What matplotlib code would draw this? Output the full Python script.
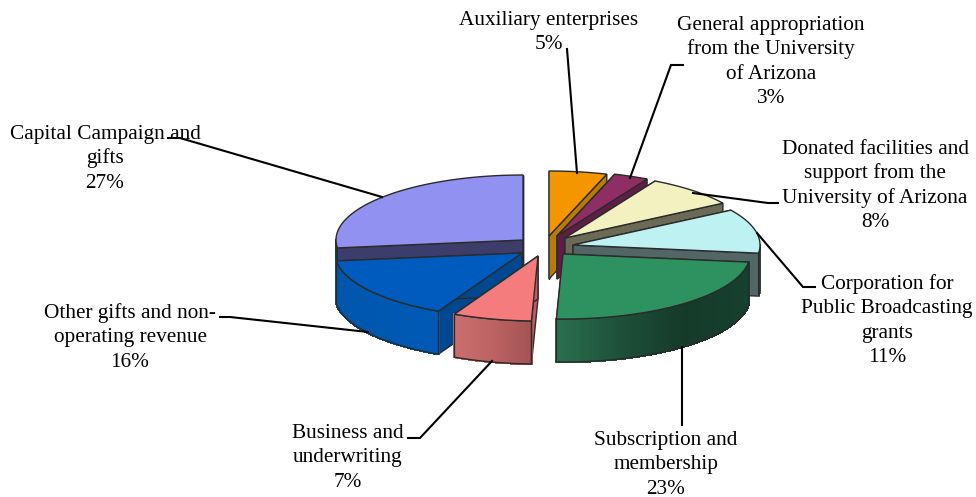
import numpy as np
import matplotlib
matplotlib.use("Agg")
import matplotlib.pyplot as plt
from matplotlib.collections import PolyCollection
from matplotlib.colors import LinearSegmentedColormap
from matplotlib.patches import Polygon

# -------------------------
# Data (clockwise from 12 o'clock)
# -------------------------
names = [
    ["Auxiliary enterprises"],
    ["General appropriation", "from the University", "of Arizona"],
    ["Donated facilities and", "support from the", "University of Arizona"],
    ["Corporation for", "Public Broadcasting", "grants"],
    ["Subscription and", "membership"],
    ["Business and", "underwriting"],
    ["Other gifts and non-", "operating revenue"],
    ["Capital Campaign and", "gifts"],
]
percent_labels = [5, 3, 8, 11, 23, 7, 16, 27]
slice_shares = [5.0, 3.0, 8.0, 11.0, 23.56, 6.81, 15.69, 26.94]

# -------------------------
# Layout and styles
# -------------------------
CX, CY = 543, 245
RX, RY = 187, 65
DEPTH = 43

offsets = [(6, -9), (14, -9), (22, -7), (30, 0), (20, 9), (-5, 11), (-21, 8), (-20, -5)]
top_colors = ["#F49600", "#8E2E64", "#F2F2C0", "#BEF2F2", "#2E9260", "#F47C7C", "#005BBF", "#9191F2"]
wall_colors = ["#BA7A08", "#5E1E45", "#6A6A55", "#526666", "#1A4A35", "#B85E5E", "#004890", "#3D3D6B"]
curve_stops = [
    ["#BA7A08"] * 2,
    ["#5E1E45"] * 2,
    ["#6A6A55"] * 2,
    ["#566E6E"] * 2,
    ["#2A7050", "#1D5039", "#153A2A", "#17402F"],
    ["#CC6E6E", "#BC6262", "#A35353"],
    ["#0056AC", "#005AB6"],
    ["#0056AC"] * 2,
]
draw_order = [7, 0, 1, 2, 3, 6, 5, 4]

label_pos = [
    (549, 25), (771, 30), (875, 154), (887, 289),
    (666, 445), (348, 438), (130, 318), (105, 139),
]
LINE_H = 24.4

leaders = [
    [(567, 49), (577, 173)],
    [(683, 65), (671, 65), (630, 178)],
    [(778, 203), (768, 203), (693, 193)],
    [(815, 287), (803, 287), (757, 233)],
    [(682, 425), (682, 347)],
    [(408, 438), (420, 438), (492, 361)],
    [(220, 317), (230, 317), (368, 332)],
    [(168, 138), (180, 138), (382, 197)],
]

plt.rcParams["font.family"] = ["Liberation Serif", "DejaVu Serif"]

fig = plt.figure(figsize=(9.76, 4.97), dpi=100)
ax = fig.add_axes([0, 0, 1, 1])
ax.set_xlim(0, 976)
ax.set_ylim(497, 0)
ax.axis("off")

EDGE = "#2b2b2b"


def rim(apex, angles):
    a = np.radians(angles)
    return np.column_stack([apex[0] + RX * np.sin(a), apex[1] - RY * np.cos(a)])


edges = np.concatenate([[0], np.cumsum(slice_shares)]) / np.sum(slice_shares) * 360

for i in draw_order:
    start, end = edges[i], edges[i + 1]
    apex = np.array([CX + offsets[i][0], CY + offsets[i][1]], dtype=float)
    down = np.array([0, DEPTH])

    # flat cut walls
    for ang in (start, end):
        p = rim(apex, [ang])[0]
        wall = [apex, p, p + down, apex + down]
        ax.add_patch(Polygon(wall, closed=True, fc=wall_colors[i], ec=EDGE, lw=1, zorder=2))

    # curved outer wall, shaded in strips
    lo, hi = max(start, 90), min(end, 270)
    if hi > lo:
        arc = rim(apex, np.linspace(lo, hi, 80))
        cmap = LinearSegmentedColormap.from_list("wall", curve_stops[i])
        quads = [[arc[k], arc[k + 1], arc[k + 1] + down, arc[k] + down] for k in range(len(arc) - 1)]
        xs = arc[:-1, 0]
        t = (xs - arc[:, 0].min()) / max(np.ptp(arc[:, 0]), 1)
        cols = cmap(t)
        ax.add_collection(PolyCollection(quads, facecolors=cols, edgecolors=cols, linewidths=1.0,
                                         antialiaseds=False, zorder=2))
        outline = np.vstack([arc, arc[::-1] + down])
        ax.add_patch(Polygon(outline, closed=True, fill=False, ec=EDGE, lw=1, zorder=2))

    # top face
    top = np.vstack([apex, rim(apex, np.linspace(start, end, 80))])
    ax.add_patch(Polygon(top, closed=True, fc=top_colors[i], ec=EDGE, lw=1, zorder=2))

# -------------------------
# Leader lines and labels
# -------------------------
for pts in leaders:
    xs, ys = zip(*pts)
    ax.plot(xs, ys, color="black", lw=1.5, solid_joinstyle="miter", zorder=3)

for lines, pct, (x, y) in zip(names, percent_labels, label_pos):
    for k, line in enumerate(lines + [f"{pct}%"]):
        ax.text(x, y + k * LINE_H, line, ha="center", va="baseline", fontsize=15.3, color="black", zorder=4)

fig.savefig("out.png", dpi=100)
